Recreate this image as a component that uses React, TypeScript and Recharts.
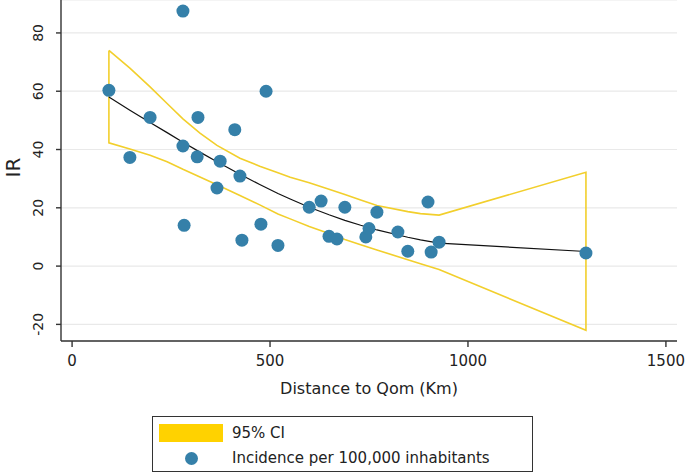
import { ComposedChart, Scatter, XAxis, YAxis, CartesianGrid } from 'recharts'

// observed incidence per district
const distance = [93, 146, 197, 280, 280, 283, 316, 318, 366, 374, 411, 424, 429, 477, 490, 520, 599, 629, 649, 669, 689, 742, 750, 770, 823, 848, 899, 907, 927, 1298]
const incidence = [60.3, 37.3, 51, 87.5, 41.2, 14, 37.5, 51, 26.8, 36, 46.8, 30.9, 8.9, 14.4, 60, 7.1, 20.2, 22.3, 10.2, 9.3, 20.2, 10, 12.9, 18.5, 11.7, 5.1, 22, 4.8, 8.2, 4.5]

// fitted line and 95% CI
const fitX = [93, 146, 197, 240, 280, 323, 366, 424, 474, 520, 551, 599, 649, 689, 729, 770, 848, 880, 927, 1298]
const fitY = [58, 53.5, 49.3, 45.8, 42.5, 39.1, 35.8, 31.5, 28, 24.9, 23, 20.2, 17.6, 15.7, 14, 12.4, 9.9, 9, 7.9, 5]
const ciUpper = [74, 67.9, 61.5, 55.8, 50.5, 45.6, 41.4, 37, 34.3, 32, 30.5, 28.6, 26.4, 24.6, 22.7, 20.8, 18.7, 18, 17.5, 32.2]
const ciLower = [42.3, 40.2, 38, 35.8, 33.2, 30.6, 27.9, 24.2, 21, 17.9, 16.2, 13.6, 11.2, 9.1, 7.3, 5.5, 2.2, 0.8, -1.2, -22]

const xTicks = [0, 500, 1000, 1500]
const yTicks = [-20, 0, 20, 40, 60, 80]

const points = distance.map((x, i) => ({ x, y: incidence[i] }))
const fitLine = fitX.map((x, i) => ({ x, y: fitY[i] }))
// closed outline: upper forwards, lower backwards, back to start
const ciOutline = [
  ...fitX.map((x, i) => ({ x, y: ciUpper[i] })),
  ...fitX.map((x, i) => ({ x, y: ciLower[i] })).reverse(),
  { x: fitX[0], y: ciUpper[0] },
]

const FONT = '"DejaVu Sans", sans-serif'
const AXIS = '#333'
const BLUE = '#3580a9'
const YELLOW = '#f2cf2c'

const noDot = () => <g />

function Dot(props: any) {
  return <circle cx={props.cx} cy={props.cy} r={6.5} fill={BLUE} />
}

function YTick({ x, y, payload }: any) {
  const cx = x - 16
  return (
    <text
      x={cx}
      y={y}
      transform={`rotate(-90 ${cx} ${y})`}
      textAnchor="middle"
      dominantBaseline="central"
      fontSize={14}
      fill="#222"
      fontFamily={FONT}
    >
      {payload.value}
    </text>
  )
}

export default function App() {
  return (
    <div style={{ position: 'absolute', left: 0, top: 0, width: 685, height: 474, background: '#fff', fontFamily: FONT }}>
      <ComposedChart width={685} height={474} margin={{ top: 0, right: 8, left: 0, bottom: 83 }}>
        <CartesianGrid horizontal vertical={false} stroke="#e9e9e9" strokeWidth={1.2} />
        <XAxis
          type="number"
          dataKey="x"
          domain={[-28, 1528]}
          allowDataOverflow
          ticks={xTicks}
          height={50}
          stroke={AXIS}
          strokeWidth={1.4}
          tickSize={6}
          tickMargin={8}
          tick={{ fill: '#222', fontSize: 15, fontFamily: FONT }}
          label={{
            content: ({ viewBox }: any) => (
              <text
                x={viewBox.x + viewBox.width / 2}
                y={viewBox.y + 47}
                textAnchor="middle"
                dominantBaseline="central"
                fontSize={16}
                fill="#222"
                fontFamily={FONT}
              >
                Distance to Qom (Km)
              </text>
            ),
          }}
        />
        <YAxis
          type="number"
          dataKey="y"
          domain={[-25.7, 91.3]}
          allowDataOverflow
          ticks={yTicks}
          width={61}
          stroke={AXIS}
          strokeWidth={1.4}
          tickSize={5}
          tick={<YTick />}
          label={{
            content: ({ viewBox }: any) => {
              const cx = viewBox.x + 13
              const cy = viewBox.y + viewBox.height / 2 - 3
              return (
                <text
                  x={cx}
                  y={cy}
                  transform={`rotate(-90 ${cx} ${cy})`}
                  textAnchor="middle"
                  dominantBaseline="central"
                  fontSize={20}
                  fill="#222"
                  fontFamily={FONT}
                >
                  IR
                </text>
              )
            },
          }}
        />
        <Scatter
          data={ciOutline}
          line={{ stroke: YELLOW, strokeWidth: 1.6 }}
          lineType="joint"
          shape={noDot}
          isAnimationActive={false}
        />
        <Scatter
          data={fitLine}
          line={{ stroke: '#111', strokeWidth: 1.2 }}
          lineType="joint"
          shape={noDot}
          isAnimationActive={false}
        />
        <Scatter data={points} shape={<Dot />} isAnimationActive={false} />
      </ComposedChart>

      <div
        style={{
          position: 'absolute',
          left: 152,
          top: 416,
          width: 381,
          height: 56,
          border: '1px solid #333',
          boxSizing: 'border-box',
          fontSize: 15,
          color: '#222',
        }}
      >
        <div style={{ position: 'absolute', left: 6, top: 7, width: 64, height: 18, background: '#ffd200' }} />
        <div style={{ position: 'absolute', left: 79, top: 6, lineHeight: '20px' }}>95% CI</div>
        <div
          style={{
            position: 'absolute',
            left: 32,
            top: 35,
            width: 13,
            height: 13,
            borderRadius: '50%',
            background: BLUE,
          }}
        />
        <div style={{ position: 'absolute', left: 79, top: 31, lineHeight: '20px' }}>
          Incidence per 100,000 inhabitants
        </div>
      </div>
    </div>
  )
}
